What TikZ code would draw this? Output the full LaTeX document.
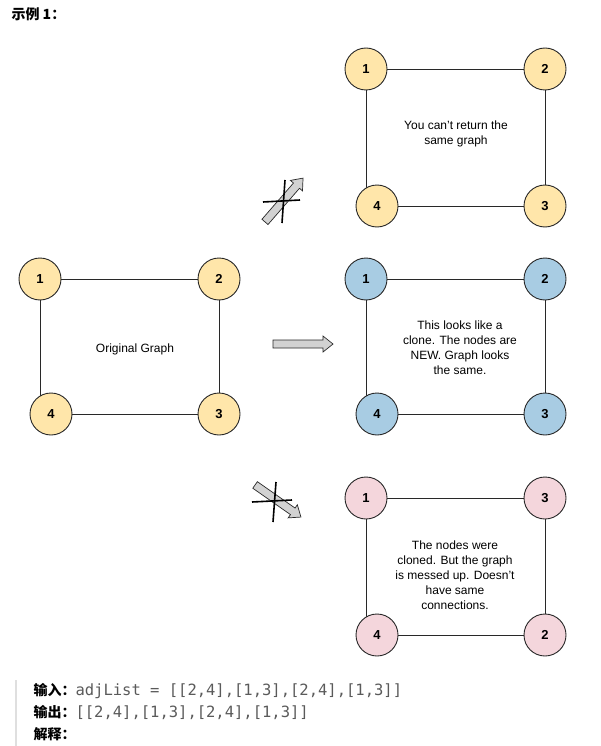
\documentclass[tikz,border=0pt]{standalone}
\usepackage{fontspec}
\setmainfont{Liberation Sans}
\newfontfamily\cjk{Noto Sans CJK SC}
\newfontfamily\monof{DejaVu Sans Mono}
\usetikzlibrary{backgrounds}
\definecolor{yel}{RGB}{255,230,170}
\definecolor{blu}{RGB}{168,204,227}
\definecolor{pnk}{RGB}{244,214,220}
\definecolor{strk}{RGB}{40,40,40}
\definecolor{codegray}{RGB}{90,90,90}
\tikzset{
 v/.style={circle,draw=strk,line width=0.9pt,minimum size=42pt,inner sep=0pt,font=\fontsize{13}{15}\selectfont\bfseries},
 e/.style={draw=strk,line width=0.7pt},
 lbl/.style={align=center,font=\fontsize{12}{15}\selectfont},
 fatarrow/.style={draw=strk,fill=gray!35,line width=0.7pt,line join=miter},
 xmark/.style={line width=1.6pt,black},
 txt/.style={anchor=west,font=\fontsize{14}{16}\selectfont}
}
% fat arrow of length #1 along +x from origin
\newcommand{\myfat}[1]{\path[fatarrow] (-#1/2,-4) -- (#1/2-10,-4) -- (#1/2-10,-8) -- (#1/2,0) -- (#1/2-10,8) -- (#1/2-10,4) -- (-#1/2,4) -- cycle;}
\begin{document}
\begin{tikzpicture}[x=1pt,y=-1pt]
\useasboundingbox (0,0) rectangle (601,746);
\node[anchor=west,font=\cjk\bfseries\fontsize{14}{16}\selectfont] (title) at (8,14) {示例 1：};
% top graph
\node[v,fill=yel] (a1) at (366,69) {1};
\node[v,fill=yel] (a2) at (545,69) {2};
\node[v,fill=yel] (a4) at (377,206) {4};
\node[v,fill=yel] (a3) at (545,206) {3};
\node[lbl] (at) at (456,134) {You can't return the\\same graph};
% left graph
\node[v,fill=yel] (b1) at (40,279) {1};
\node[v,fill=yel] (b2) at (219,279) {2};
\node[v,fill=yel] (b4) at (51,414) {4};
\node[v,fill=yel] (b3) at (219,414) {3};
\node[lbl] (bt) at (135,349) {Original Graph};
% middle right
\node[v,fill=blu] (c1) at (366,279) {1};
\node[v,fill=blu] (c2) at (545,279) {2};
\node[v,fill=blu] (c4) at (377,414) {4};
\node[v,fill=blu] (c3) at (545,414) {3};
\node[lbl] (ct) at (460,348) {This looks like a\\clone. The nodes are\\NEW. Graph looks\\the same.};
% bottom
\node[v,fill=pnk] (d1) at (366,498) {1};
\node[v,fill=pnk] (d3) at (545,498) {3};
\node[v,fill=pnk] (d4) at (377,635) {4};
\node[v,fill=pnk] (d2) at (545,635) {2};
\node[lbl] (dt) at (455,575) {The nodes were\\cloned. But the graph\\is messed up. Doesn't\\have same\\connections.};
\begin{scope}[on background layer]
\foreach \p in {a,b,c} {
 \draw[e] (\p1) -- (\p2); \draw[e] (\p2) -- (\p3); \draw[e] (\p4) -- (\p3);
 \draw[e] (\p1) -- (\p1 |- \p4);
}
\draw[e] (d1) -- (d3); \draw[e] (d3) -- (d2); \draw[e] (d4) -- (d2); \draw[e] (d1) -- (d1 |- d4);
\end{scope}
% arrows
\begin{scope}[shift={(303,344)}] \myfat{60} \end{scope}
\begin{scope}[shift={(284,200)},rotate=49] \myfat{58} \end{scope}
\begin{scope}[shift={(278,501)},rotate=-35] \myfat{56} \end{scope}
\coordinate (tx1) at (263,202); \coordinate (tx2) at (300,200);
\coordinate (ty1) at (285,180); \coordinate (ty2) at (282,223);
\draw[xmark] (tx1) -- (tx2); \draw[xmark] (ty1) -- (ty2);
\coordinate (bx1) at (252,502); \coordinate (bx2) at (292,500);
\coordinate (by1) at (276,482); \coordinate (by2) at (273,522);
\draw[xmark] (bx1) -- (bx2); \draw[xmark] (by1) -- (by2);
% bottom text
\coordinate (bar1) at (16,680); \coordinate (bar2) at (16,746);
\draw[line width=2.5pt,gray!25] (bar1) -- (bar2);
\node[txt] (in) at (30,691) {{\cjk\bfseries 输入：}{\monof\fontsize{15.5}{17}\selectfont\color{codegray}adjList = [[2,4],[1,3],[2,4],[1,3]]}};
\node[txt] (out) at (30,713) {{\cjk\bfseries 输出：}{\monof\fontsize{15.5}{17}\selectfont\color{codegray}[[2,4],[1,3],[2,4],[1,3]]}};
\node[txt] (ex) at (30,734) {{\cjk\bfseries 解释：}};
\end{tikzpicture}
\end{document}
